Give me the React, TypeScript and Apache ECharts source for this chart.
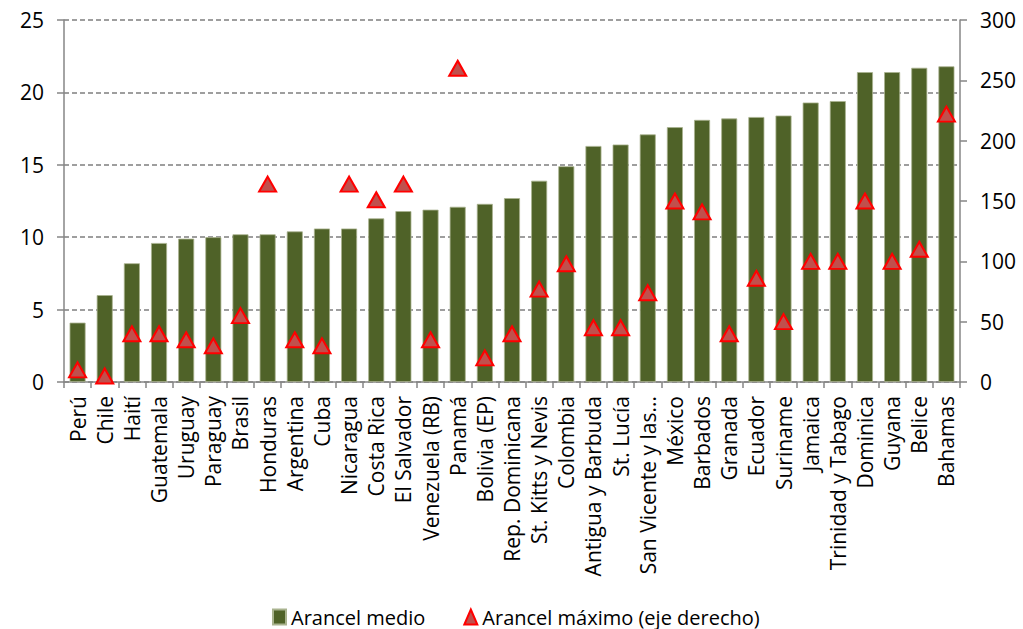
import React, { useEffect, useRef } from "react";
import * as echarts from "echarts";

const categories = [
  "Perú", "Chile", "Haití", "Guatemala", "Uruguay", "Paraguay", "Brasil", "Honduras",
  "Argentina", "Cuba", "Nicaragua", "Costa Rica", "El Salvador", "Venezuela (RB)", "Panamá",
  "Bolivia (EP)", "Rep. Dominicana", "St. Kitts y Nevis", "Colombia", "Antigua y Barbuda",
  "St. Lucía", "San Vicente y las Granadinas", "México", "Barbados", "Granada", "Ecuador",
  "Suriname", "Jamaica", "Trinidad y Tabago", "Dominica", "Guyana", "Belice", "Bahamas",
];

const arancelMedio = [
  4.1, 6.0, 8.2, 9.6, 9.9, 10.0, 10.2, 10.2, 10.4, 10.6, 10.6, 11.3, 11.8, 11.9, 12.1,
  12.3, 12.7, 13.9, 14.9, 16.3, 16.4, 17.1, 17.6, 18.1, 18.2, 18.3, 18.4, 19.3, 19.4,
  21.4, 21.4, 21.7, 21.8,
];

const arancelMaximo = [
  10, 5, 40, 40, 35, 30, 55, 164, 35, 30, 164, 151, 164, 35, 260, 20, 40, 77, 98, 45, 45,
  74, 150, 141, 40, 86, 50, 100, 100, 150, 100, 110, 222,
];

const leftTicks = { min: 0, max: 25, interval: 5 };
const rightTicks = { min: 0, max: 300, interval: 50 };

const FONT = "Open Sans";

export default function App() {
  const ref = useRef<HTMLDivElement>(null);
  useEffect(() => {
    if (!ref.current) return;
    const chart = echarts.init(ref.current, undefined, { renderer: "svg" });
    chart.setOption({
      animation: false,
      backgroundColor: "#ffffff",
      textStyle: { fontFamily: FONT },
      grid: { left: 64, right: 63, top: 20, bottom: 247, containLabel: false },
      legend: {
        left: 267,
        top: 602,
        itemWidth: 13,
        itemHeight: 15,
        itemGap: 38,
        textStyle: { fontFamily: FONT, fontSize: 20, color: "#000" },
        data: [
          { name: "Arancel medio", icon: "rect" },
          { name: "Arancel máximo (eje derecho)", icon: "triangle" },
        ],
      },
      xAxis: {
        type: "category",
        data: categories,
        axisLine: { lineStyle: { color: "#868686", width: 1.5 } },
        axisTick: { show: true, length: 6, alignWithLabel: false, lineStyle: { color: "#868686", width: 1.5 } },
        axisLabel: {
          rotate: 90,
          interval: 0,
          margin: 14,
          fontSize: 21,
          fontFamily: FONT,
          color: "#000",
          formatter: (v: string) => (v.length > 20 ? v.slice(0, 17) + "..." : v),
        },
      },
      yAxis: [
        {
          type: "value",
          ...leftTicks,
          position: "left",
          axisLine: { show: true, lineStyle: { color: "#868686", width: 1.5 } },
          axisTick: { show: true, length: 7, lineStyle: { color: "#868686", width: 1.5 } },
          axisLabel: { margin: 20, fontSize: 21, fontFamily: FONT, color: "#000" },
          splitLine: { show: true, lineStyle: { color: "#7f7f7f", type: [5, 3], width: 1.5 } },
        },
        {
          type: "value",
          ...rightTicks,
          position: "right",
          axisLine: { show: true, lineStyle: { color: "#868686", width: 1.5 } },
          axisTick: { show: true, length: 7, lineStyle: { color: "#868686", width: 1.5 } },
          axisLabel: { margin: 20, fontSize: 21, fontFamily: FONT, color: "#000" },
          splitLine: { show: false },
        },
      ],
      series: [
        {
          name: "Arancel medio",
          type: "bar",
          yAxisIndex: 0,
          data: arancelMedio,
          barWidth: 16,
          itemStyle: { color: "#4f6228", borderColor: "#a9b38f", borderWidth: 0.8 },
        },
        {
          name: "Arancel máximo (eje derecho)",
          type: "scatter",
          yAxisIndex: 1,
          data: arancelMaximo,
          symbol: "triangle",
          symbolSize: [17, 15],
          itemStyle: { color: "#c0504d", borderColor: "#ff0000", borderWidth: 2, opacity: 1 },
          z: 5,
        },
      ],
    });
    return () => chart.dispose();
  }, []);
  return (
    <div
      ref={ref}
      style={{ position: "fixed", left: 0, top: 0, width: 1023, height: 629 }}
    />
  );
}
